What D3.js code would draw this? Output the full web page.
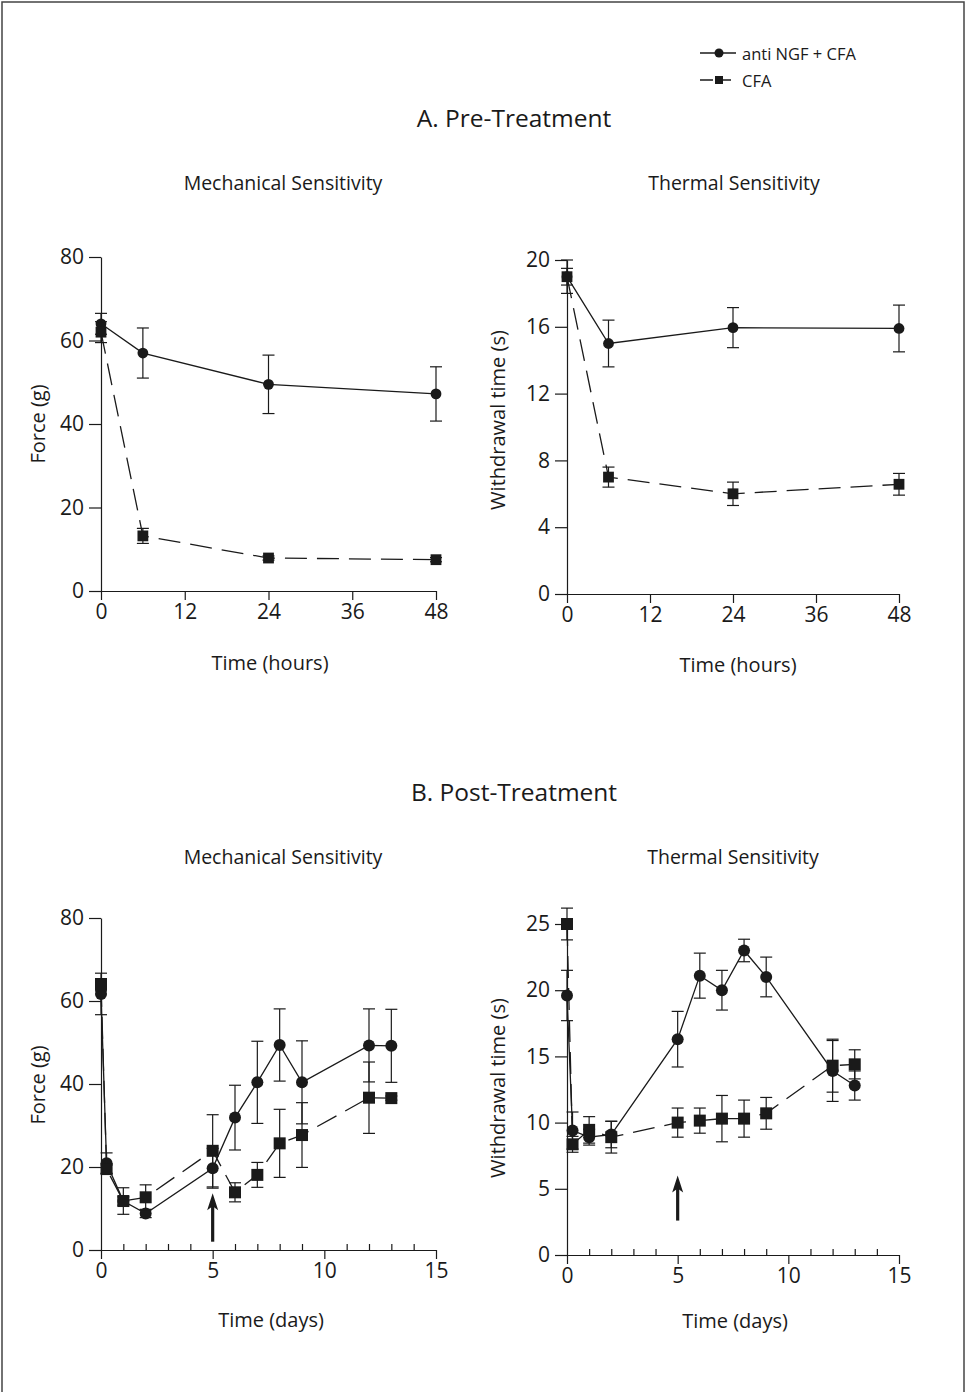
<!DOCTYPE html>
<html>
<head>
<meta charset="utf-8">
<script src="https://cdn.jsdelivr.net/npm/d3@7"></script>
<style>
  html, body { margin: 0; padding: 0; background: #fff; }
  svg { display: block; }
  text { font-family: "Open Sans", "DejaVu Sans", sans-serif; fill: #1a1a1a; }
</style>
</head>
<body>
<svg id="chart" width="966" height="1392"></svg>
<script>
/* global d3 */

// ─── Data ─────────────────────────────────────────────────────────────────────

var seriesNames = ['anti NGF + CFA', 'CFA'];

// A. Pre-treatment, time in hours
var preHours = [0, 6, 24, 48];
var preHourTicks = [0, 12, 24, 36, 48];
var preMechAnti = [64, 57, 49.5, 47.2];
var preMechAntiErr = [2.5, 6, 7, 6.5];
var preMechCfa = [62, 13.2, 7.9, 7.5];
var preMechCfaErr = [2.5, 1.8, 0.5, 0.5];
var preThermAnti = [19, 15, 15.95, 15.9];
var preThermAntiErr = [0.5, 1.4, 1.2, 1.4];
var preThermCfa = [19, 7, 6, 6.57];
var preThermCfaErr = [1, 0.6, 0.7, 0.65];

// B. Post-treatment, time in days
var postDays = [0, 0.25, 1, 2, 5, 6, 7, 8, 9, 12, 13];
var postDayTicks = [0, 5, 10, 15];
var postDayMinorTicks = [1, 2, 3, 4, 6, 7, 8, 9, 11, 12, 13, 14];
var postMechAnti = [61.7, 20.9, 11.8, 8.8, 19.7, 31.9, 40.4, 49.4, 40.4, 49.3, 49.2];
var postMechAntiErr = [5, 2.5, 3.2, 1, 4.8, 7.8, 9.9, 8.7, 10, 8.8, 8.8];
var postMechCfa = [63.9, 19.5, 11.8, 12.7, 23.9, 13.9, 18.1, 25.7, 27.7, 36.7, 36.6];
var postMechCfaErr = [1.5, 1, 1, 3, 8.7, 2.3, 3, 8.2, 7.8, 8.6, 0.5];
var postThermAnti = [19.6, 9.4, 8.9, 9.1, 16.3, 21.1, 20.0, 23.0, 21.0, 13.9, 12.8];
var postThermAntiErr = [1.9, 1.4, 0.6, 1, 2.1, 1.7, 1.5, 0.85, 1.5, 2.3, 1.1];
var postThermCfa = [25.0, 8.36, 9.45, 8.9, 10.0, 10.15, 10.3, 10.3, 10.7, 14.3, 14.4];
var postThermCfaErr = [1.2, 0.6, 1, 1.2, 1.1, 0.95, 1.75, 1.4, 1.2, 2, 1.1];

// treatment arrow (day, from value, to value)
var arrowDay = 5;
var mechArrow = [2, 13.7];
var thermArrow = [2.6, 6.0];

// ─── Drawing ──────────────────────────────────────────────────────────────────

var INK = '#1a1a1a';
var DASH = '22 10';

var svg = d3.select('#chart');

svg.append('rect')
  .attr('x', 2).attr('y', 2)
  .attr('width', 962).attr('height', 1420)
  .attr('fill', 'none')
  .attr('stroke', '#444')
  .attr('stroke-width', 1.5);

function zip(xs, ys, es) {
  return xs.map(function (x, i) { return { x: x, y: ys[i], e: es[i] }; });
}

function label(txt, x, y, size, rotate) {
  var t = svg.append('text')
    .attr('text-anchor', 'middle')
    .attr('font-size', size)
    .text(txt);
  if (rotate) t.attr('transform', 'translate(' + x + ',' + y + ') rotate(-90)');
  else t.attr('x', x).attr('y', y);
  return t;
}

function drawPanel(p) {
  var x = d3.scaleLinear().domain(p.xDomain).range(p.xRange);
  var y = d3.scaleLinear().domain(p.yDomain).range(p.yRange);
  var g = svg.append('g');

  var yAxis = g.append('g')
    .attr('transform', 'translate(' + p.xRange[0] + ',0)')
    .call(d3.axisLeft(y).tickValues(p.yTicks).tickSize(12).tickSizeOuter(0).tickPadding(5));
  var xAxis = g.append('g')
    .attr('transform', 'translate(0,' + p.yRange[0] + ')')
    .call(d3.axisBottom(x).tickValues(p.xTicks).tickSize(9).tickSizeOuter(0).tickPadding(4));
  [yAxis, xAxis].forEach(function (a) {
    a.selectAll('path, line').attr('stroke', INK).attr('stroke-width', 1.2);
    a.selectAll('text').attr('font-size', 21).attr('fill', INK)
      .style('font-family', '"Open Sans", sans-serif');
  });

  if (p.xMinor) {
    var minor = g.append('g')
      .attr('transform', 'translate(0,' + p.yRange[0] + ')')
      .call(d3.axisBottom(x).tickValues(p.xMinor).tickSize(-6).tickFormat(''));
    minor.select('.domain').remove();
    minor.selectAll('line').attr('stroke', INK).attr('stroke-width', 1.2);
  }

  var line = d3.line().x(function (d) { return x(d.x); }).y(function (d) { return y(d.y); });

  p.series.forEach(function (s) {
    var pts = zip(p.xs, s.values, s.errors);
    g.append('path')
      .datum(pts)
      .attr('d', line)
      .attr('fill', 'none')
      .attr('stroke', INK)
      .attr('stroke-width', 1.3)
      .attr('stroke-dasharray', s.dashed ? DASH : null);

    var eb = g.append('g').selectAll('g').data(pts).join('g')
      .attr('stroke', INK).attr('stroke-width', 1.2);
    eb.append('line')
      .attr('x1', function (d) { return x(d.x); })
      .attr('x2', function (d) { return x(d.x); })
      .attr('y1', function (d) { return y(d.y + d.e); })
      .attr('y2', function (d) { return y(d.y - d.e); });
    [1, -1].forEach(function (sign) {
      eb.append('line')
        .attr('x1', function (d) { return x(d.x) - 6; })
        .attr('x2', function (d) { return x(d.x) + 6; })
        .attr('y1', function (d) { return y(d.y + sign * d.e); })
        .attr('y2', function (d) { return y(d.y + sign * d.e); });
    });

    var r = p.markerSize;
    if (s.marker === 'circle') {
      g.append('g').selectAll('circle').data(pts).join('circle')
        .attr('cx', function (d) { return x(d.x); })
        .attr('cy', function (d) { return y(d.y); })
        .attr('r', r)
        .attr('fill', INK);
    } else {
      g.append('g').selectAll('rect').data(pts).join('rect')
        .attr('x', function (d) { return x(d.x) - r; })
        .attr('y', function (d) { return y(d.y) - r; })
        .attr('width', 2 * r).attr('height', 2 * r)
        .attr('fill', INK);
    }
  });

  if (p.arrow) {
    var ax = x(arrowDay), y0 = y(p.arrow[0]), y1 = y(p.arrow[1]);
    g.append('line')
      .attr('x1', ax).attr('x2', ax)
      .attr('y1', y0).attr('y2', y1 + 10)
      .attr('stroke', INK).attr('stroke-width', 3.2);
    g.append('path')
      .attr('d', 'M' + ax + ',' + y1 + 'L' + (ax - 5.5) + ',' + (y1 + 17) +
        'L' + ax + ',' + (y1 + 13) + 'L' + (ax + 5.5) + ',' + (y1 + 17) + 'Z')
      .attr('fill', INK);
  }
}

// ─── Panels ───────────────────────────────────────────────────────────────────

drawPanel({
  xDomain: [0, 48], xRange: [101, 436], xTicks: preHourTicks,
  yDomain: [0, 80], yRange: [591, 257], yTicks: d3.range(0, 81, 20),
  xs: preHours, markerSize: 5.4,
  series: [
    { values: preMechAnti, errors: preMechAntiErr, marker: 'circle' },
    { values: preMechCfa, errors: preMechCfaErr, marker: 'square', dashed: true }
  ]
});

drawPanel({
  xDomain: [0, 48], xRange: [567, 899], xTicks: preHourTicks,
  yDomain: [0, 20], yRange: [594, 260], yTicks: d3.range(0, 21, 4),
  xs: preHours, markerSize: 5.4,
  series: [
    { values: preThermAnti, errors: preThermAntiErr, marker: 'circle' },
    { values: preThermCfa, errors: preThermCfaErr, marker: 'square', dashed: true }
  ]
});

drawPanel({
  xDomain: [0, 15], xRange: [101, 436], xTicks: postDayTicks, xMinor: postDayMinorTicks,
  yDomain: [0, 80], yRange: [1250, 918], yTicks: d3.range(0, 81, 20),
  xs: postDays, markerSize: 6, arrow: mechArrow,
  series: [
    { values: postMechAnti, errors: postMechAntiErr, marker: 'circle' },
    { values: postMechCfa, errors: postMechCfaErr, marker: 'square', dashed: true }
  ]
});

drawPanel({
  xDomain: [0, 15], xRange: [567, 899], xTicks: postDayTicks, xMinor: postDayMinorTicks,
  yDomain: [0, 25], yRange: [1255, 924], yTicks: d3.range(0, 26, 5),
  xs: postDays, markerSize: 6, arrow: thermArrow,
  series: [
    { values: postThermAnti, errors: postThermAntiErr, marker: 'circle' },
    { values: postThermCfa, errors: postThermCfaErr, marker: 'square', dashed: true }
  ]
});

// ─── Titles and axis labels ───────────────────────────────────────────────────

label('A. Pre-Treatment', 514, 127, 24.5);
label('Mechanical Sensitivity', 283, 190, 19.5);
label('Thermal Sensitivity', 734, 190, 19.5);
label('Time (hours)', 270, 670, 20);
label('Time (hours)', 738, 672, 20);
label('Force (g)', 45, 424, 20, true);
label('Withdrawal time (s)', 505, 420, 20, true);

label('B. Post-Treatment', 514, 801, 24.5);
label('Mechanical Sensitivity', 283, 864, 19.5);
label('Thermal Sensitivity', 733, 864, 19.5);
label('Time (days)', 271, 1327, 20);
label('Time (days)', 735, 1328, 20);
label('Force (g)', 45, 1085, 20, true);
label('Withdrawal time (s)', 505, 1088, 20, true);

// ─── Legend ───────────────────────────────────────────────────────────────────

var legend = svg.append('g').attr('transform', 'translate(700,53)');
seriesNames.forEach(function (name, i) {
  var row = legend.append('g').attr('transform', 'translate(0,' + i * 27 + ')');
  row.append('line')
    .attr('x1', 0).attr('x2', 36)
    .attr('stroke', INK).attr('stroke-width', 1.3)
    .attr('stroke-dasharray', i === 1 ? '13 5' : null);
  if (i === 0) row.append('circle').attr('cx', 19).attr('r', 4.5).attr('fill', INK);
  else row.append('rect').attr('x', 15).attr('y', -4).attr('width', 8).attr('height', 8).attr('fill', INK);
  row.append('text')
    .attr('x', 42).attr('y', 7)
    .attr('font-size', 16.5)
    .text(name);
});
</script>
</body>
</html>
